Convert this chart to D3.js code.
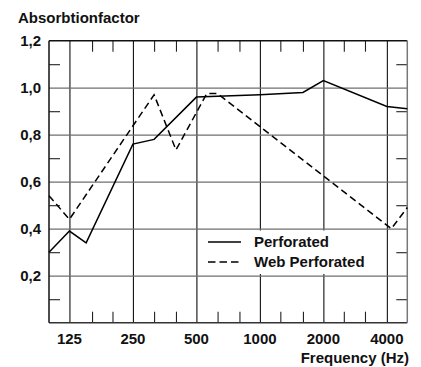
<!DOCTYPE html>
<html>
<head>
<meta charset="utf-8">
<script src="https://cdn.jsdelivr.net/npm/d3@7"></script>
<style>
  body { margin: 0; background: #fff; }
  svg text { font-family: "Liberation Sans", Arial, Helvetica, sans-serif; font-weight: bold; font-size: 15px; fill: #111; }
</style>
</head>
<body>
<svg id="chart" width="421" height="367"></svg>
<script>
// values
var perfFreq = [100, 125, 150, 250, 315, 500, 1000, 1600, 2000, 4000, 5000];
var perfVal = [0.30, 0.39, 0.34, 0.76, 0.78, 0.96, 0.97, 0.98, 1.03, 0.92, 0.91];
var webFreq = [100, 125, 315, 400, 560, 630, 4200, 5000];
var webVal = [0.54, 0.44, 0.97, 0.735, 0.975, 0.975, 0.40, 0.49];

var xMajor = [125, 250, 500, 1000, 2000, 4000];
var xMinor = [160, 200, 315, 400, 630, 800, 1250, 1600, 2500, 3150];
var yMajor = [0.2, 0.4, 0.6, 0.8, 1.0];
var yLabels = [0.2, 0.4, 0.6, 0.8, 1.0, 1.2];
var yMinor = [0.1, 0.3, 0.5, 0.7, 0.9, 1.1];

var seriesNames = ["Perforated", "Web Perforated"];

// plot box (don't call it "top", that one is taken by window)
var plotL = 49, plotR = 407.3, plotT = 40.7, plotB = 322.7;
var tickLen = 11;

var svg = d3.select("#chart");

var x = d3.scaleLog().domain([100, 5000]).range([plotL, plotR]);
var y = d3.scaleLinear().domain([0, 1.2]).range([plotB, plotT]);

var locale = d3.formatLocale({ decimal: ",", thousands: ".", grouping: [3], currency: ["", ""] });
var fmt = locale.format(".1f");

function noDomain(g) { g.select(".domain").remove(); }

// vertical grid lines (black)
svg.append("g")
  .attr("transform", "translate(0," + plotB + ")")
  .call(d3.axisBottom(x).tickValues(xMajor).tickSize(-(plotB - plotT)).tickFormat(""))
  .call(noDomain)
  .selectAll("line").attr("stroke", "#111").attr("stroke-width", 1.1);

// legend background
svg.append("rect")
  .attr("x", 201).attr("y", 230.5)
  .attr("width", 180).attr("height", 43.5)
  .attr("fill", "#fff");

// horizontal grid lines (gray)
svg.append("g")
  .attr("transform", "translate(" + plotL + ",0)")
  .call(d3.axisLeft(y).tickValues(yMajor).tickSize(-(plotR - plotL)).tickFormat(""))
  .call(noDomain)
  .selectAll("line").attr("stroke", "#6f6f6f").attr("stroke-width", 1.3);

// minor ticks on all four sides
svg.append("g")
  .attr("transform", "translate(0," + plotT + ")")
  .call(d3.axisTop(x).tickValues(xMinor).tickSize(-tickLen).tickFormat(""))
  .call(noDomain)
  .selectAll("line").attr("stroke", "#222").attr("stroke-width", 1.1);

svg.append("g")
  .attr("transform", "translate(0," + plotB + ")")
  .call(d3.axisBottom(x).tickValues(xMinor).tickSize(-tickLen).tickFormat(""))
  .call(noDomain)
  .selectAll("line").attr("stroke", "#222").attr("stroke-width", 1.1);

svg.append("g")
  .attr("transform", "translate(" + plotL + ",0)")
  .call(d3.axisLeft(y).tickValues(yMinor).tickSize(-tickLen).tickFormat(""))
  .call(noDomain)
  .selectAll("line").attr("stroke", "#222").attr("stroke-width", 1.1);

svg.append("g")
  .attr("transform", "translate(" + plotR + ",0)")
  .call(d3.axisRight(y).tickValues(yMinor).tickSize(-tickLen).tickFormat(""))
  .call(noDomain)
  .selectAll("line").attr("stroke", "#222").attr("stroke-width", 1.1);

// frame
svg.append("line").attr("x1", plotL).attr("x2", plotR).attr("y1", plotT).attr("y2", plotT)
  .attr("stroke", "#111").attr("stroke-width", 1.5);
svg.append("line").attr("x1", plotL).attr("x2", plotR).attr("y1", plotB).attr("y2", plotB)
  .attr("stroke", "#333").attr("stroke-width", 1.6);
svg.append("line").attr("x1", plotL).attr("x2", plotL).attr("y1", plotT).attr("y2", plotB)
  .attr("stroke", "#111").attr("stroke-width", 1.5);
svg.append("line").attr("x1", plotR).attr("x2", plotR).attr("y1", plotT).attr("y2", plotB)
  .attr("stroke", "#777").attr("stroke-width", 1.5);

// tick labels
svg.append("g").selectAll("text")
  .data(yLabels)
  .enter().append("text")
  .attr("x", 41)
  .attr("y", function (d) { return y(d) + 5; })
  .attr("text-anchor", "end")
  .text(function (d) { return fmt(d); });

svg.append("g").selectAll("text")
  .data(xMajor)
  .enter().append("text")
  .attr("x", function (d) { return x(d); })
  .attr("y", 344)
  .attr("text-anchor", "middle")
  .text(function (d) { return d; });

svg.append("text").attr("x", 18).attr("y", 23).text("Absorbtionfactor");
svg.append("text").attr("x", 409).attr("y", 363).attr("text-anchor", "end").text("Frequency (Hz)");

// series
var line = d3.line()
  .x(function (d) { return x(d[0]); })
  .y(function (d) { return y(d[1]); });

var perfData = perfFreq.map(function (f, i) { return [f, perfVal[i]]; });
var webData = webFreq.map(function (f, i) { return [f, webVal[i]]; });

svg.append("path")
  .datum(perfData)
  .attr("d", line)
  .attr("fill", "none")
  .attr("stroke", "#000")
  .attr("stroke-width", 1.5);

svg.append("path")
  .datum(webData)
  .attr("d", line)
  .attr("fill", "none")
  .attr("stroke", "#000")
  .attr("stroke-width", 1.5)
  .attr("stroke-dasharray", "7,4");

// legend
var legend = svg.append("g").selectAll("g")
  .data(seriesNames)
  .enter().append("g")
  .attr("transform", function (d, i) { return "translate(0," + (i * 20) + ")"; });

legend.append("line")
  .attr("x1", 208).attr("x2", 241)
  .attr("y1", 242).attr("y2", 242)
  .attr("stroke", "#000")
  .attr("stroke-width", 1.5)
  .attr("stroke-dasharray", function (d, i) { return i == 1 ? "7.5,4" : null; });

legend.append("text")
  .attr("x", 254).attr("y", 246.5)
  .text(function (d) { return d; });
</script>
</body>
</html>
